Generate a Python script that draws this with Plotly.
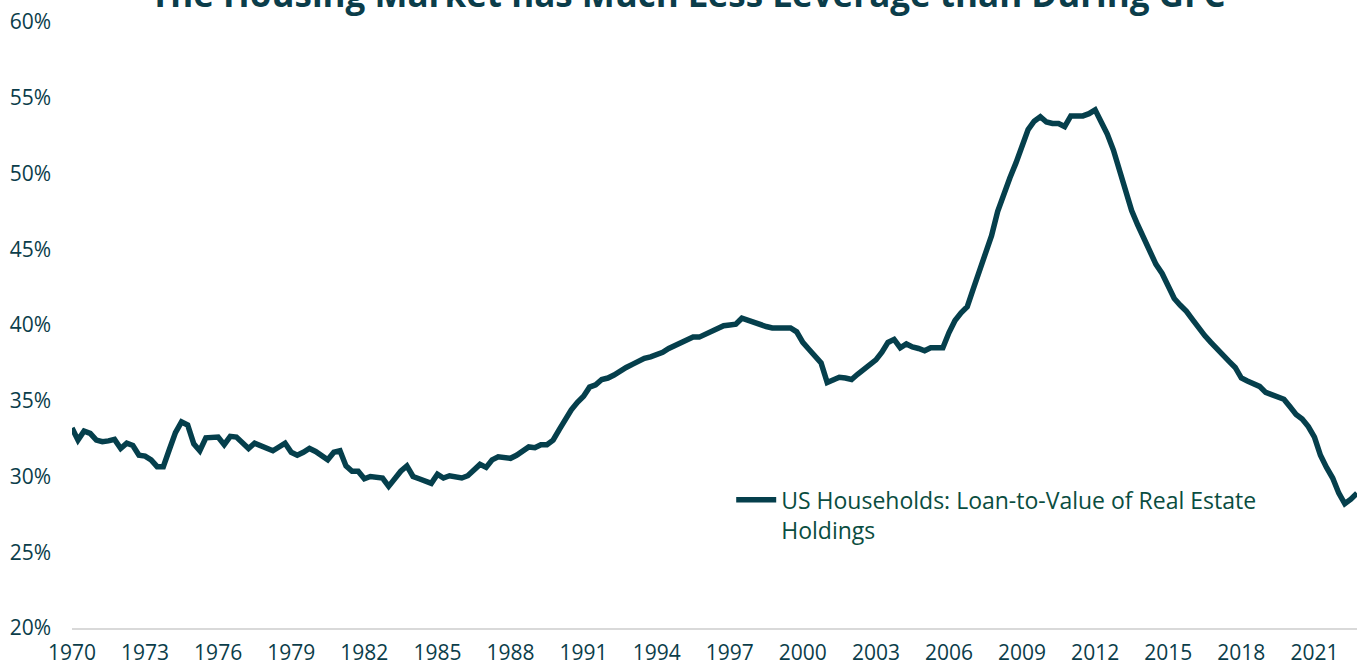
import plotly.graph_objects as go

title_text = "The Housing Market has Much Less Leverage than During GFC"
series_name = "US Households: Loan-to-Value of Real Estate<br>Holdings"

start_year = 1970
end_year = 2022

# Quarterly loan-to-value (%), Q1..Q4 per year
ltv_1970s = [
    33.2, 32.4, 33.0, 32.85,   # 1970
    32.4, 32.3, 32.35, 32.45,  # 1971
    31.85, 32.2, 32.05, 31.4,  # 1972
    31.35, 31.1, 30.65, 30.65, # 1973
    31.8, 32.9, 33.6, 33.4,    # 1974
    32.15, 31.7, 32.55, 32.6,  # 1975
    32.6, 32.1, 32.65, 32.6,   # 1976
    32.25, 31.85, 32.2, 32.05, # 1977
    31.9, 31.7, 31.95, 32.2,   # 1978
    31.6, 31.4, 31.6, 31.85,   # 1979
]
ltv_1980s = [
    31.65, 31.4, 31.1, 31.6,   # 1980
    31.7, 30.7, 30.35, 30.35,  # 1981
    29.85, 30.0, 29.95, 29.9,  # 1982
    29.35, 29.85, 30.35, 30.7, # 1983
    30.0, 29.85, 29.7, 29.55,  # 1984
    30.15, 29.9, 30.05, 30.0,  # 1985
    29.9, 30.05, 30.4, 30.8,   # 1986
    30.6, 31.1, 31.3, 31.25,   # 1987
    31.2, 31.4, 31.65, 31.95,  # 1988
    31.9, 32.1, 32.1, 32.4,    # 1989
]
ltv_1990s = [
    33.1, 33.8, 34.4, 34.9,    # 1990
    35.3, 35.9, 36.05, 36.4,   # 1991
    36.5, 36.7, 37.0, 37.2,    # 1992
    37.4, 37.6, 37.8, 37.9,    # 1993
    38.05, 38.2, 38.45, 38.65, # 1994
    38.8, 39.0, 39.2, 39.2,    # 1995
    39.4, 39.6, 39.8, 39.95,   # 1996
    40.0, 40.05, 40.45, 40.3,  # 1997
    40.15, 40.0, 39.9, 39.8,   # 1998
    39.8, 39.75, 39.8, 39.55,  # 1999
]
ltv_2000s = [
    38.85, 38.4, 38.0, 37.5,   # 2000
    36.2, 36.4, 36.55, 36.5,   # 2001
    36.4, 36.75, 37.1, 37.4,   # 2002
    37.7, 38.2, 38.85, 39.05,  # 2003
    38.5, 38.75, 38.55, 38.45, # 2004
    38.3, 38.5, 38.5, 38.5,    # 2005
    39.5, 40.3, 40.8, 41.2,    # 2006
    42.4, 43.6, 44.7, 45.9,    # 2007
    47.5, 48.7, 49.7, 50.7,    # 2008
    51.8, 52.9, 53.45, 53.75,  # 2009
]
ltv_2010s = [
    53.4, 53.3, 53.3, 53.1,    # 2010
    53.8, 53.8, 53.8, 53.95,   # 2011
    54.2, 53.4, 52.6, 51.55,   # 2012
    50.2, 48.6, 47.55, 46.6,   # 2013
    45.7, 44.7, 44.0, 43.4,    # 2014
    42.6, 41.75, 41.3, 40.9,   # 2015
    40.35, 39.8, 39.3, 38.85,  # 2016
    38.4, 38.0, 37.6, 37.2,    # 2017
    36.5, 36.3, 36.15, 35.95,  # 2018
    35.55, 35.4, 35.3, 35.1,   # 2019
]
ltv_2020s = [
    34.6, 34.1, 33.8, 33.3,    # 2020
    32.6, 31.4, 30.6, 29.9,    # 2021
    28.9, 28.2, 28.5, 28.9,    # 2022
]

ltv = ltv_1970s + ltv_1980s + ltv_1990s + ltv_2000s + ltv_2010s + ltv_2020s
quarter_months = ["01", "04", "07", "10"]
dates = [f"{y}-{m}-01" for y in range(start_year, end_year + 1) for m in quarter_months]

y_ticks = [20, 25, 30, 35, 40, 45, 50, 55, 60]
x_tick_years = list(range(1970, 2022, 3))

LINE = "#053f4c"
TEXT = "#0b3d4a"
LEGEND_TEXT = "#0a4d40"
FONT = "Open Sans"

fig = go.Figure()
fig.add_trace(go.Scatter(
    x=dates, y=ltv, mode="lines", name=series_name,
    line=dict(color=LINE, width=5.5),
))

fig.update_layout(
    width=1362, height=667,
    margin=dict(l=72, r=5, t=22, b=39),
    paper_bgcolor="white", plot_bgcolor="white",
    font=dict(family=FONT, color=TEXT, size=21),
    showlegend=True,
    legend=dict(
        x=0.513, y=0.247, xanchor="left", yanchor="top",
        valign="top",
        bgcolor="rgba(0,0,0,0)",
        font=dict(family=FONT, size=23, color=LEGEND_TEXT),
        itemwidth=40,
    ),
    annotations=[dict(
        text=f"<b>{title_text}</b>", xref="paper", yref="paper",
        x=0.479, y=1.0, yshift=29, xanchor="center", yanchor="middle",
        showarrow=False, font=dict(family=FONT, size=35, color=TEXT),
    )],
)
fig.update_xaxes(
    type="date",
    range=[dates[0], dates[-1]],
    tickvals=[f"{y}-01-01" for y in x_tick_years],
    ticktext=[str(y) for y in x_tick_years],
    showgrid=False, zeroline=False,
    showline=True, linecolor="#d9d9d9", linewidth=2,
    ticks="", ticklabelstandoff=5, automargin=False,
    tickfont=dict(family=FONT, size=21, color=TEXT),
)
fig.update_yaxes(
    range=[20, 60],
    tickvals=y_ticks,
    ticktext=[f"{v}%" for v in y_ticks],
    showgrid=False, zeroline=False, showline=False,
    ticks="", ticklabelstandoff=20, automargin=False,
    tickfont=dict(family=FONT, size=21, color=TEXT),
)

fig.write_html(
    "out.html",
    config={"displayModeBar": False},
    post_script="document.body.style.margin='0px';document.body.style.overflow='hidden';",
)
